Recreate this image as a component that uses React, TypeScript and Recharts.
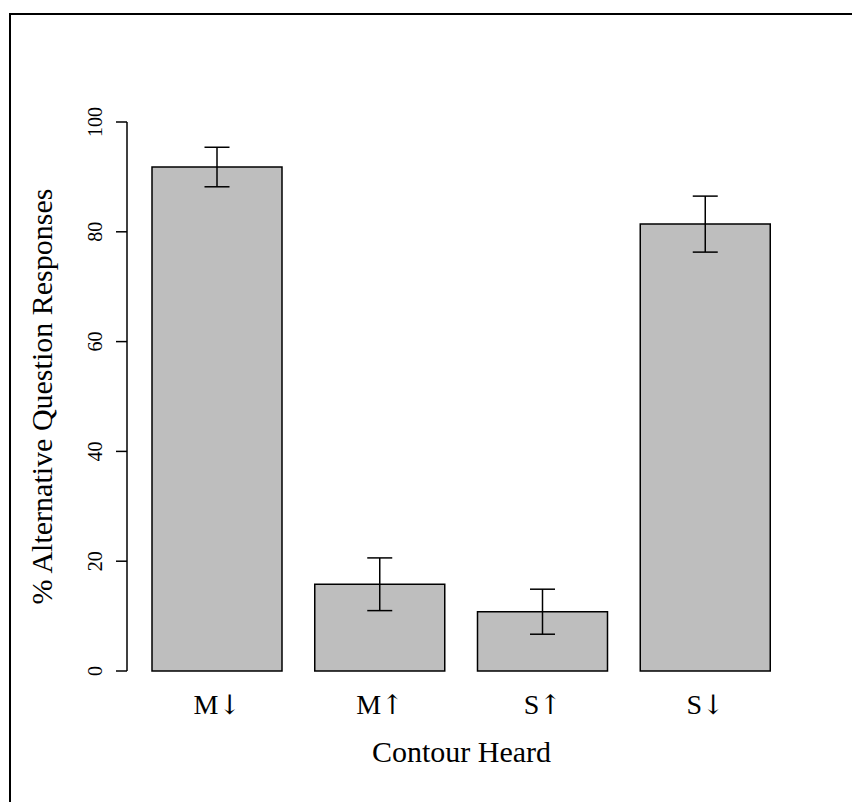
import React from 'react';
import { BarChart, Bar, XAxis, YAxis, ErrorBar } from 'recharts';

const categories = ['M↓', 'M↑', 'S↑', 'S↓'];
const percentages = [91.8, 15.8, 10.8, 81.4];
const errors = [3.6, 4.8, 4.1, 5.1];
const yTicks = [0, 20, 40, 60, 80, 100];

const data = categories.map((c, i) => ({ contour: c, pct: percentages[i], err: errors[i] }));

const FONT = '"Liberation Serif", "Times New Roman", serif';

const YTick = ({ x, y, payload }: any) => {
  const tx = x - 14;
  return (
    <text x={tx} y={y} transform={`rotate(-90, ${tx}, ${y})`} textAnchor="middle"
      fontFamily={FONT} fontSize={20} fill="#000">
      {payload.value}
    </text>
  );
};

// letter and arrow drawn separately so the arrow is as tall as the capital
const XTick = ({ x, y, payload }: any) => {
  const label: string = payload.value;
  return (
    <text x={x} y={y + 43} textAnchor="middle" fill="#000">
      <tspan fontFamily={FONT} fontSize={28}>{label.slice(0, 1)}</tspan>
      <tspan fontFamily='"DejaVu Serif"' fontSize={27}>{label.slice(1)}</tspan>
    </text>
  );
};

const YTitle = ({ viewBox }: any) => {
  const tx = viewBox.x + 52;
  const ty = viewBox.y + viewBox.height / 2;
  return (
    <text x={tx} y={ty} transform={`rotate(-90, ${tx}, ${ty})`} textAnchor="middle"
      fontFamily={FONT} fontSize={30} fill="#000">
      % Alternative Question Responses
    </text>
  );
};

export default function App() {
  return (
    <div style={{ position: 'absolute', left: 0, top: 0, width: 852, height: 802, background: '#fff', overflow: 'hidden' }}>
      <div style={{ position: 'absolute', left: 9, top: 13, width: 900, height: 900, borderTop: '2px solid #000', borderLeft: '2px solid #000' }} />
      <div style={{ position: 'absolute', left: 0, top: 0 }}>
        <BarChart width={852} height={802} data={data} margin={{ top: 122, right: 56, bottom: 0, left: 0 }}>
          <XAxis dataKey="contour" height={131} axisLine={false} tickLine={false} tickSize={0} tickMargin={0}
            padding={{ left: 9, right: 9 }} tick={<XTick />}
            label={{ value: 'Contour Heard', position: 'insideBottom', offset: 40, fontFamily: FONT, fontSize: 30, fill: '#000' }} />
          <YAxis width={127} domain={[0, 100]} ticks={yTicks} interval={0} tickSize={11} tickMargin={0}
            axisLine={{ stroke: '#000', strokeWidth: 1.5 }} tickLine={{ stroke: '#000', strokeWidth: 1.5 }}
            tick={<YTick />} label={<YTitle />} />
          <Bar dataKey="pct" fill="#bebebe" stroke="#000" strokeWidth={1.5} barSize={130} isAnimationActive={false}>
            <ErrorBar dataKey="err" width={12.5} stroke="#000" strokeWidth={1.5} direction="y" />
          </Bar>
        </BarChart>
      </div>
    </div>
  );
}
